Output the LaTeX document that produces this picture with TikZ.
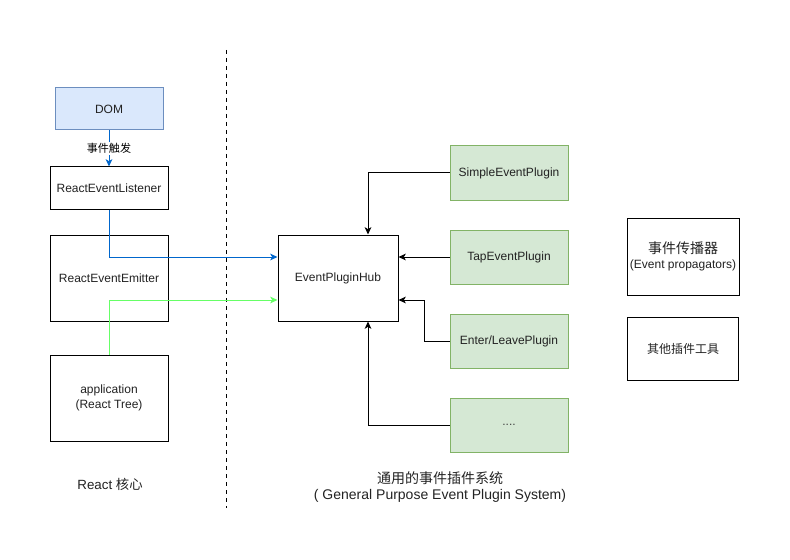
\documentclass[tikz,border=0pt]{standalone}
\usepackage{fontspec}
\setmainfont{Liberation Sans}
\newfontfamily\cjk{Noto Sans CJK SC}
\usetikzlibrary{arrows.meta}
\definecolor{domfill}{HTML}{DAE8FC}
\definecolor{domline}{HTML}{6C8EBF}
\definecolor{gfill}{HTML}{D5E8D4}
\definecolor{gline}{HTML}{82B366}
\definecolor{bluearr}{HTML}{0066CC}
\definecolor{greenarr}{HTML}{66FF66}
\definecolor{txt}{HTML}{222222}
\begin{document}
\begin{tikzpicture}[x=0.75pt,y=-0.75pt,
  every node/.style={font=\fontsize{9}{11}\selectfont, text=txt, align=center, inner sep=0pt},
  box/.style={draw=black, line width=0.75pt, fill=white},
  gbox/.style={draw=gline, line width=0.75pt, fill=gfill},
  conn/.style={line width=0.75pt, -{Stealth[length=5.5pt,width=5pt,inset=1.5pt]}},
]
\useasboundingbox (0,0) rectangle (790,560);
\draw[dashed, line width=0.75pt] (226,50) -- (226,508);
% left column
\node[draw=domline, fill=domfill, line width=0.75pt, minimum width=108*0.75pt, minimum height=42*0.75pt] (dom) at (109,109) {DOM};
\node[box, minimum width=118*0.75pt, minimum height=42*0.75pt] (rel) at (109,188) {ReactEventListener};
\node[box, minimum width=118*0.75pt, minimum height=86*0.75pt] (ree) at (109,278) {ReactEventEmitter};
\node[box, minimum width=118*0.75pt, minimum height=86*0.75pt] (app) at (109,398) {application\\(React Tree)};
% hub
\node[box, minimum width=120*0.75pt, minimum height=86*0.75pt] (hub) at (338,278) {EventPluginHub};
% plugins
\node[gbox, minimum width=118*0.75pt, minimum height=54*0.75pt] (simple) at (509,173) {SimpleEventPlugin};
\node[gbox, minimum width=118*0.75pt, minimum height=54*0.75pt] (tap) at (509,257) {TapEventPlugin};
\node[gbox, minimum width=118*0.75pt, minimum height=54*0.75pt] (enter) at (509,341) {Enter/LeavePlugin};
\node[gbox, minimum width=118*0.75pt, minimum height=54*0.75pt] (dots) at (509,425) {\textcolor{darkgray}{....}};
% right boxes
\node[box, minimum width=112*0.75pt, minimum height=77*0.75pt] (prop) at (683,256.5) {{\fontsize{10.5}{12}\selectfont\cjk 事件传播器}\\(Event propagators)};
\node[box, minimum width=111*0.75pt, minimum height=63*0.75pt] (tools) at (683,348.5) {\cjk 其他插件工具};
% bottom labels
\node[font=\fontsize{10}{12}\selectfont] (lbl1) at (110,484) {React {\cjk 核心}};
\node[font=\fontsize{10.5}{11.5}\selectfont] (lbl2) at (440,487) {{\cjk 通用的事件插件系统}\\( General Purpose Event Plugin System)};
% connectors
\draw[conn, draw=bluearr] (dom.south) -- node[fill=white, inner sep=1pt, font=\fontsize{8.3}{9}\selectfont\cjk, text=black, pos=0.5] (lbltrig) {事件触发} (rel.north);
\coordinate (hubin1) at (hub.west |- 0,257);
\coordinate (hubin2) at (hub.west |- 0,300);
\draw[conn, draw=bluearr] (rel.south) |- (hubin1);
\draw[conn, draw=greenarr] (app.north) |- (hubin2);
\coordinate (simplebend) at (368,173);
\draw[conn] (simple.west) -- (simplebend) -- (simplebend |- hub.north);
\draw[conn] (tap.west) -- (tap.west -| hub.east);
\coordinate (enterbend) at (424,341);
\draw[conn] (enter.west) -- (enterbend) -- (424,300) -- (hub.east |- 0,300);
\coordinate (dotsbend) at (368,425);
\draw[conn] (dots.west) -- (dotsbend) -- (dotsbend |- hub.south);
\end{tikzpicture}
\end{document}
